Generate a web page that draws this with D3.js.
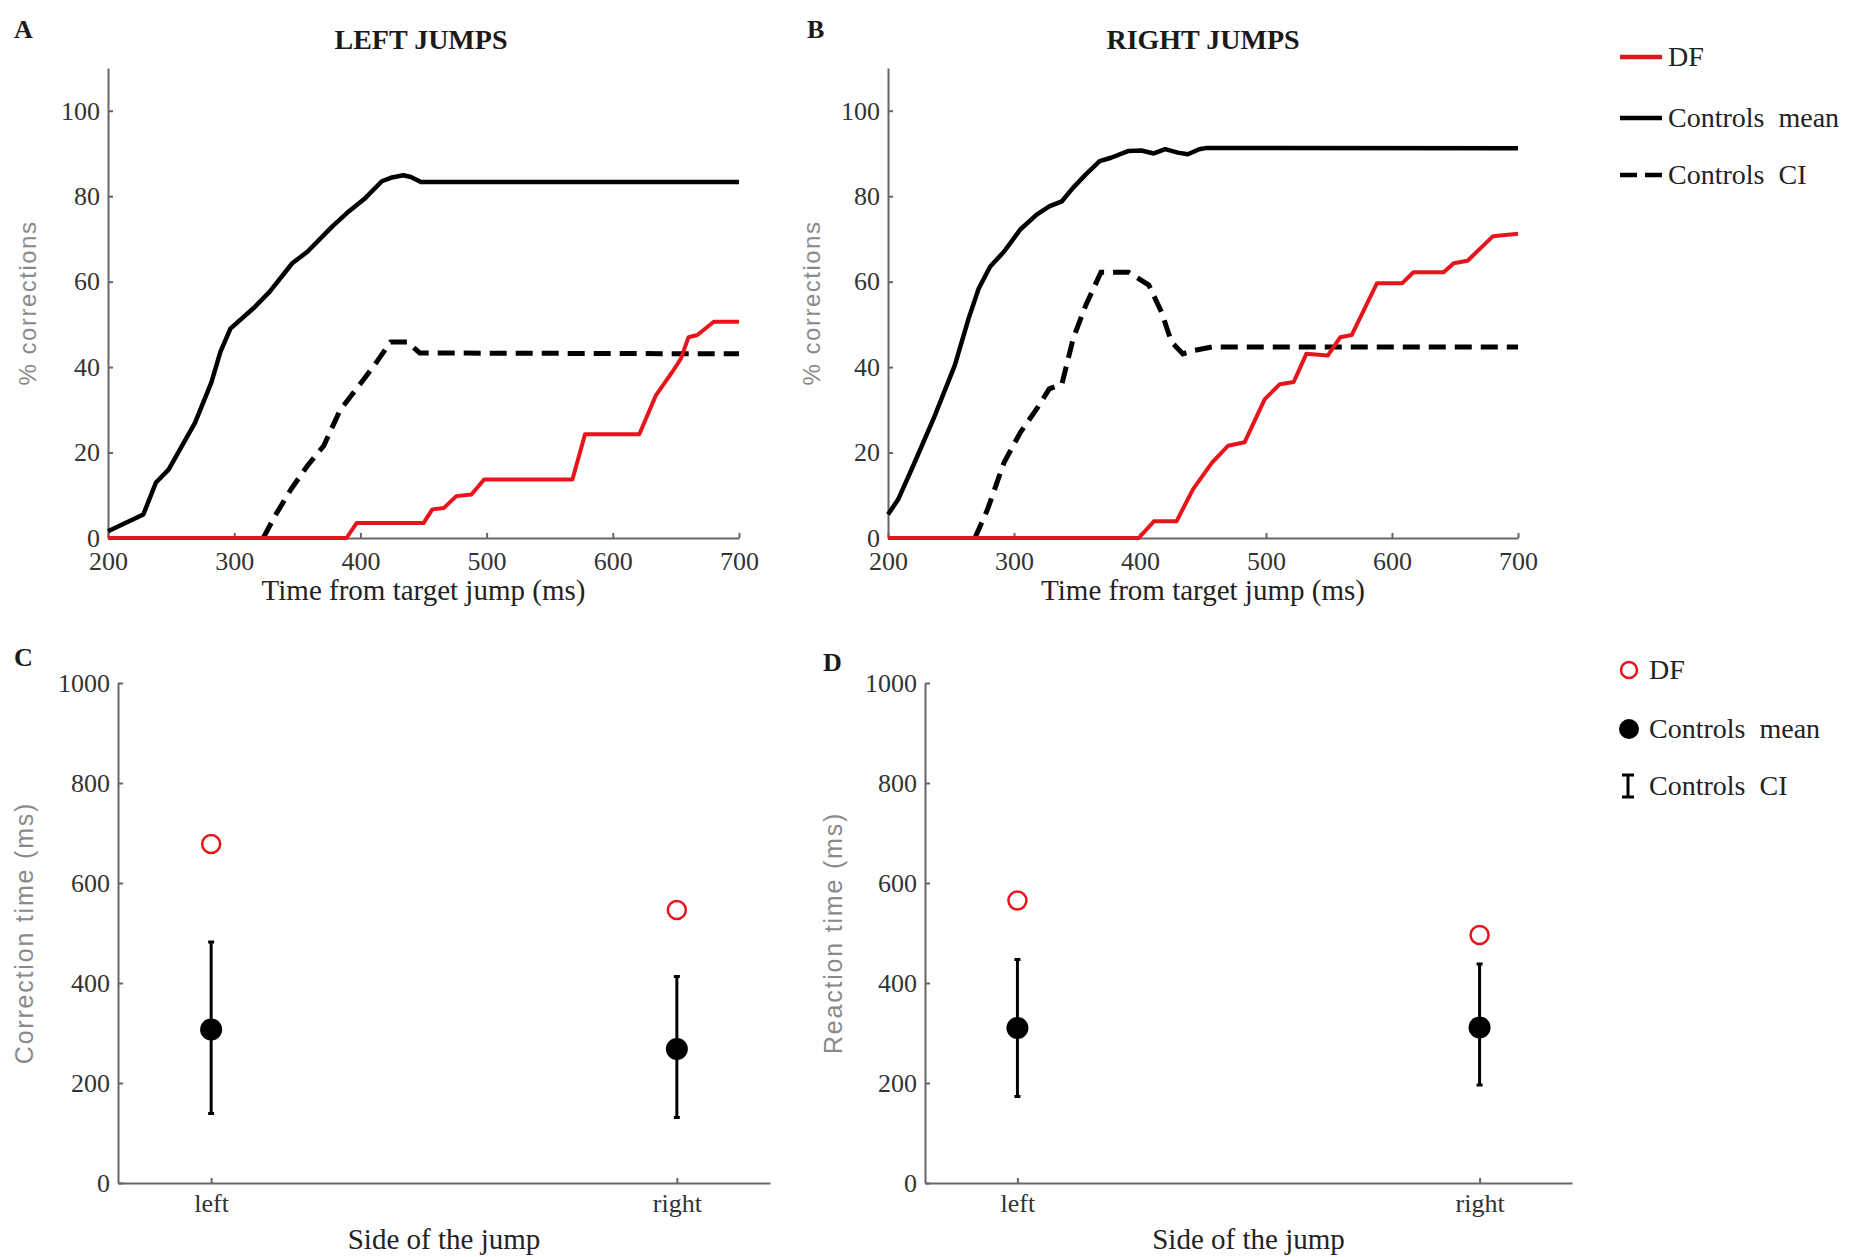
<!DOCTYPE html>
<html>
<head>
<meta charset="utf-8">
<script src="https://cdn.jsdelivr.net/npm/d3@7"></script>
<style>
  body { margin: 0; background: #fff; }
  svg { display: block; }
  .tick text { fill: #333; font-family: "Liberation Serif", serif; font-size: 26px; }
  .domain { stroke: #666; stroke-width: 2; }
  .tick line { stroke: #666; stroke-width: 2; }
</style>
</head>
<body>
<div id="chart"></div>
<script>
var width = 1853;
var height = 1257;

// percent of corrections over time ([ms, %])
var leftMean = [[200,1.6],[228,5.5],[238,13],[248,16],[269,27],[282,36.5],[289,43.5],[297,49],[315,53.7],
  [328,57.6],[346,64.3],[358,67],[378,73],[391,76.5],[404,79.6],[417,83.5],[424,84.3],[434,84.9],
  [440,84.5],[448,83.3],[700,83.3]];
var leftCI = [[323,0],[332,5],[345,11.4],[358,16.9],[371,21.6],[384,30],[401,36.5],[411,40.4],
  [424,45.9],[437,45.9],[447,43.3],[700,43.1]];
var leftDF = [[200,0],[389,0],[397,3.5],[450,3.5],[457,6.7],[466,7],[476,9.8],[488,10.2],[498,13.7],
  [568,13.7],[578,24.3],[621,24.3],[634,33.3],[647,38.8],[654,42],[660,47],[667,47.5],[680,50.6],[700,50.6]];

var rightMean = [[200,5.5],[208,9],[220,16.9],[236,27.8],[253,40.4],[264,51.4],[272,58.4],[281,63.5],
  [292,67],[305,72.2],[318,75.7],[328,77.6],[338,78.8],[347,82],[357,85.1],[368,88.2],[377,89],
  [391,90.6],[401,90.7],[411,90],[420,91],[430,90.2],[438,89.8],[447,91],[453,91.3],[700,91.2]];
var rightCI = [[269,0],[279,6.7],[292,17.6],[305,24.7],[318,30.2],[328,34.9],[338,36],[347,46.7],
  [357,54.5],[369,62.2],[391,62.2],[407,59.2],[417,52.9],[425,45.9],[434,43.1],[443,43.9],[457,44.7],[700,44.7]];
var rightDF = [[200,0],[399,0],[411,3.9],[429,3.9],[442,11.4],[457,17.6],[470,21.6],[483,22.4],[499,32.5],
  [511,36],[522,36.5],[532,43.1],[549,42.7],[559,47],[568,47.5],[588,59.6],[608,59.6],[617,62.2],
  [641,62.2],[649,64.3],[660,64.9],[680,70.6],[700,71.2]];

var timeTicks = [200, 300, 400, 500, 600, 700];
var pctTicks = [0, 20, 40, 60, 80, 100];

// time (ms) per side of the jump
var sides = ["left", "right"];
var corrDF = [678, 546];
var corrMean = [307, 268];
var corrLow = [139, 131];
var corrHigh = [482, 413];
var reacDF = [565, 496];
var reacMean = [310, 311];
var reacLow = [173, 196];
var reacHigh = [447, 438];
var msTicks = [0, 200, 400, 600, 800, 1000];

var serif = '"Liberation Serif", serif';
var sans = '"Liberation Sans", sans-serif';

var svg = d3.select('#chart').append('svg')
  .attr('width', width).attr('height', height);
svg.append('rect').attr('width', width).attr('height', height).attr('fill', '#fff');

function label(x, y, txt, opts) {
  var t = svg.append('text').attr('x', x).attr('y', y).text(txt)
    .attr('font-family', opts.family || serif)
    .attr('font-size', opts.size || 29)
    .attr('fill', opts.fill || '#222')
    .attr('text-anchor', opts.anchor || 'middle');
  if (opts.bold) t.attr('font-weight', 'bold');
  if (opts.rotate) t.attr('transform', 'rotate(-90,' + x + ',' + y + ')');
  if (opts.spacing) t.attr('letter-spacing', opts.spacing);
  return t;
}

// top row: cumulative corrections
function linePanel(x0, x1, title, titleX, letter, letterX, mean, ci, df, ylabX) {
  var x = d3.scaleLinear().domain([200, 700]).range([x0, x1]);
  var y = d3.scaleLinear().domain([0, 110]).range([538, 68]);

  svg.append('g').attr('transform', 'translate(0,538)')
    .call(d3.axisBottom(x).tickValues(timeTicks).tickSizeInner(-5).tickSizeOuter(0).tickPadding(14));
  svg.append('g').attr('transform', 'translate(' + x0 + ',0)')
    .call(d3.axisLeft(y).tickValues(pctTicks).tickSizeInner(-5).tickSizeOuter(0).tickPadding(8));

  var line = d3.line().x(function(d){ return x(d[0]); }).y(function(d){ return y(d[1]); });

  svg.append('path').datum(mean).attr('d', line)
    .attr('fill', 'none').attr('stroke', '#000').attr('stroke-width', 4.5)
    .attr('stroke-linejoin', 'round');
  svg.append('path').datum(ci).attr('d', line)
    .attr('fill', 'none').attr('stroke', '#000').attr('stroke-width', 5)
    .attr('stroke-dasharray', '17,9');
  svg.append('path').datum(df).attr('d', line)
    .attr('fill', 'none').attr('stroke', '#e8141b').attr('stroke-width', 4)
    .attr('stroke-linejoin', 'round');

  label(titleX, 49, title, { bold: true, size: 28, fill: '#1a1a1a' });
  label(letterX, 38, letter, { bold: true, size: 26, anchor: 'start', fill: '#1a1a1a' });
  label((x0 + x1) / 2, 600, 'Time from target jump (ms)', {});
  label(ylabX, 303, '% corrections', { family: sans, size: 24, fill: '#8a8a8a', rotate: true, spacing: 1.5 });
}

linePanel(108, 739, 'LEFT JUMPS', 421, 'A', 14, leftMean, leftCI, leftDF, 36);
linePanel(888, 1518, 'RIGHT JUMPS', 1203, 'B', 807, rightMean, rightCI, rightDF, 820);

// legend top
var legTop = [
  { name: 'DF', color: '#e8141b', dash: null, y: 57 },
  { name: 'Controls  mean', color: '#000', dash: null, y: 118 },
  { name: 'Controls  CI', color: '#000', dash: '17,8', y: 175 }
];
legTop.forEach(function(d) {
  svg.append('line').attr('x1', 1620).attr('x2', 1662).attr('y1', d.y).attr('y2', d.y)
    .attr('stroke', d.color).attr('stroke-width', 4.5).attr('stroke-dasharray', d.dash);
  label(1668, d.y + 9, d.name, { size: 28, anchor: 'start' }).style('white-space', 'pre');
});

// bottom row: mean times with CI
function dotPanel(x0, x1, letter, letterX, letterY, ylab, ylabX, df, mean, low, high) {
  var x = d3.scaleLinear().domain([0.8, 2.2]).range([x0, x1]);
  var y = d3.scaleLinear().domain([0, 1000]).range([1183, 683]);

  svg.append('g').attr('transform', 'translate(0,1183)')
    .call(d3.axisBottom(x).tickValues([1, 2]).tickFormat(function(d){ return sides[d - 1]; })
      .tickSizeInner(-5).tickSizeOuter(0).tickPadding(11));
  svg.append('g').attr('transform', 'translate(' + x0 + ',0)')
    .call(d3.axisLeft(y).tickValues(msTicks).tickFormat(d3.format('d'))
      .tickSizeInner(-5).tickSizeOuter(0).tickPadding(8));

  sides.forEach(function(s, i) {
    var cx = x(i + 1);
    svg.append('line').attr('x1', cx).attr('x2', cx).attr('y1', y(low[i])).attr('y2', y(high[i]))
      .attr('stroke', '#000').attr('stroke-width', 3);
    [low[i], high[i]].forEach(function(v) {
      svg.append('line').attr('x1', cx - 3).attr('x2', cx + 3).attr('y1', y(v)).attr('y2', y(v))
        .attr('stroke', '#000').attr('stroke-width', 3);
    });
    svg.append('circle').attr('cx', cx).attr('cy', y(mean[i])).attr('r', 11).attr('fill', '#000');
    svg.append('circle').attr('cx', cx).attr('cy', y(df[i])).attr('r', 9)
      .attr('fill', 'none').attr('stroke', '#e8141b').attr('stroke-width', 2.5);
  });

  label(letterX, letterY, letter, { bold: true, size: 26, anchor: 'start', fill: '#1a1a1a' });
  label((x0 + x1) / 2, 1249, 'Side of the jump', {});
  label(ylabX, 933, ylab, { family: sans, size: 25, fill: '#8a8a8a', rotate: true, spacing: 1.8 });
}

dotPanel(118, 770, 'C', 14, 666, 'Correction time (ms)', 33, corrDF, corrMean, corrLow, corrHigh);
dotPanel(925, 1572, 'D', 823, 671, 'Reaction time (ms)', 842, reacDF, reacMean, reacLow, reacHigh);

// legend bottom
svg.append('circle').attr('cx', 1629).attr('cy', 670).attr('r', 8)
  .attr('fill', 'none').attr('stroke', '#e8141b').attr('stroke-width', 2.5);
svg.append('circle').attr('cx', 1629).attr('cy', 729).attr('r', 10).attr('fill', '#000');
svg.append('path').attr('d', 'M1622,775 H1634 M1628,775 V797 M1622,797 H1634')
  .attr('fill', 'none').attr('stroke', '#000').attr('stroke-width', 3);
[['DF', 670], ['Controls  mean', 729], ['Controls  CI', 786]].forEach(function(d) {
  label(1649, d[1] + 9, d[0], { size: 28, anchor: 'start' }).style('white-space', 'pre');
});
</script>
</body>
</html>
